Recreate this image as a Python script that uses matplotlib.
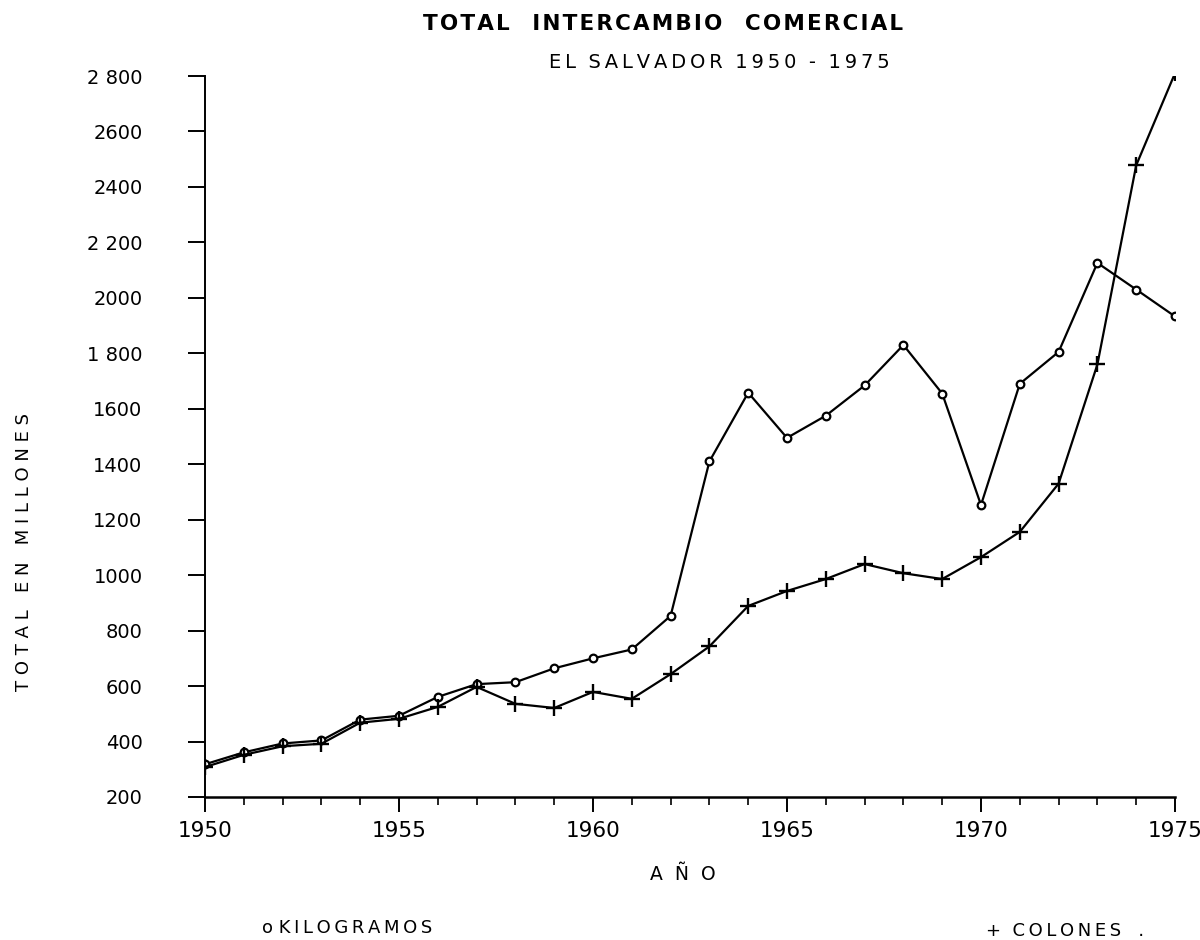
import numpy as np
import matplotlib.pyplot as plt

# Data
years = list(range(1950, 1976))

kilogramos = [318, 361, 393, 404, 479, 493, 561, 607, 614, 664, 700, 732,
              853, 1410, 1658, 1495, 1575, 1684, 1830, 1655, 1253, 1690,
              1805, 2126, 2030, 1933]

colones = [308, 352, 383, 392, 468, 482, 525, 597, 536, 521, 579, 554,
           643, 743, 889, 943, 986, 1040, 1007, 986, 1065, 1156,
           1330, 1760, 2478, 2810]

y_ticks = [200, 400, 600, 800, 1000, 1200, 1400, 1600, 1800, 2000, 2200, 2400, 2600, 2800]
y_tick_labels = ['200', '400', '600', '800', '1000', '1200', '1400', '1600',
                 '1 800', '2000', '2 200', '2400', '2600', '2 800']
x_ticks = [1950, 1955, 1960, 1965, 1970, 1975]


def spaced(text, sep='\u2009', gap='   '):
    # lettering style: small space between letters, wide gap between words
    return gap.join(sep.join(word) for word in text.split(' '))


plt.rcParams['font.family'] = ['DejaVu Sans']

fig = plt.figure(figsize=(12, 9.4), dpi=100)
ax = fig.add_axes([205 / 1200, 1 - 797 / 940, 970 / 1200, 721 / 940])

ax.plot(years, kilogramos, color='black', lw=1.6, marker='o', ms=5.5,
        mfc='white', mec='black', mew=1.6, zorder=3)
ax.plot(years, colones, color='black', lw=1.6, marker='+', ms=11,
        mew=1.7, zorder=3)

ax.set_xlim(1950, 1975)
ax.set_ylim(200, 2800)

for side in ['top', 'right']:
    ax.spines[side].set_visible(False)
ax.spines['left'].set_linewidth(1.4)
ax.spines['bottom'].set_linewidth(1.8)

ax.set_yticks(y_ticks)
ax.set_yticklabels(y_tick_labels, fontsize=14)
ax.set_xticks(x_ticks)
ax.set_xticklabels([str(x) for x in x_ticks], fontsize=15.5)
ax.set_xticks(years, minor=True)
ax.tick_params(axis='y', direction='out', length=12, width=1.4, pad=33)
ax.tick_params(axis='x', which='major', direction='out', length=11, width=1.4, pad=6)
ax.tick_params(axis='x', which='minor', direction='out', length=6, width=1.2)

fig.text(663 / 1200, 1 - 24 / 940, spaced('TOTAL INTERCAMBIO COMERCIAL', sep='\u200a'),
         ha='center', va='center', fontsize=15.5, fontweight='bold')
fig.text(719 / 1200, 1 - 62 / 940, spaced('EL SALVADOR 1950 - 1975', gap='  '),
         ha='center', va='center', fontsize=14)
fig.text(24 / 1200, 1 - 552 / 940, spaced('TOTAL EN MILLONES', sep=' '),
         ha='center', va='center', rotation=90, fontsize=13)
fig.text(683 / 1200, 1 - 875 / 940, 'A  Ñ  O',
         ha='center', va='center', fontsize=13.5)
fig.text(262 / 1200, 1 - 928 / 940, 'o ' + spaced('KILOGRAMOS'),
         ha='left', va='center', fontsize=13)
fig.text(986 / 1200, 1 - 931 / 940, '+  ' + spaced('COLONES') + '   .',
         ha='left', va='center', fontsize=13)

fig.savefig('out.png', dpi=100, facecolor='white')
